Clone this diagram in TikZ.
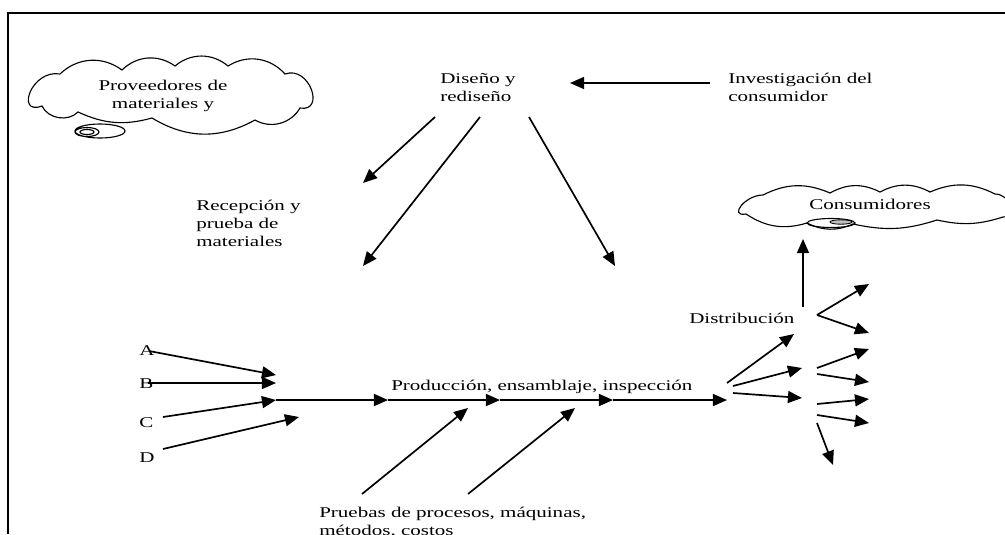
\documentclass[tikz,border=0pt]{standalone}
\usepackage{fontspec}
\setmainfont{Liberation Serif}[FakeStretch=1.41]
\usetikzlibrary{arrows.meta}
\tikzset{>={Triangle[length=10pt,width=8.5pt]},
every edge/.append style={line width=1.2pt},
lbl/.style={inner sep=0pt, anchor=base west, align=left},
nube/.style={draw, fill=white, line width=0.8pt}}

\begin{document}
\begin{tikzpicture}[x=0.025cm, y=-0.025cm, font=\fontsize{10.6}{12.8}\selectfont]
  \useasboundingbox (0,0) rectangle (1005,534);
  \draw [line width=1.3pt] (8,534) -- (8,13) -- (1005,13);

  % nubes
  \draw [nube] (42,106) to[out=200, in=170, looseness=2] (60,74)
    to[bend left=40] (122,70) to[bend left=40] (175,66)
    to[bend left=40] (228,66) to[bend left=40] (285,74)
    to[out=20, in=-10, looseness=1.8] (300,108)
    to[bend left=45] (255,120) to[bend left=30] (152,118)
    to[bend left=20] (78,112) to[bend left=55] (42,106) -- cycle;
  \draw [line width=0.8pt] (100,131) ellipse [x radius=25, y radius=7]
    (87,132) ellipse [x radius=12, y radius=4.5]
    (87,132) ellipse [x radius=7, y radius=2.5];
  \node (prov) [align=center, inner sep=0pt] at (163,96)
    {Proveedores de\\ materiales y};

  \draw [nube] (746,214) to[out=190, in=180, looseness=1.8] (763,195)
    to[bend left=25] (830,193) to[bend left=28] (880,192)
    to[bend left=28] (930,192) to[bend left=25] (995,194)
    to[out=0, in=0, looseness=1.6] (1003,217)
    to[bend left=15] (937,220) to[bend left=15] (853,224)
    to[bend left=25] (807,223) to[bend left=25] (746,214) -- cycle;
  \draw [line width=0.8pt] (831,223) ellipse [x radius=24, y radius=4.5];
  \draw [line width=0.6pt, fill=black!25] (841,222) ellipse [x radius=11, y radius=2.2];
  \node (cons) [inner sep=0pt] at (870,204) {Consumidores};

  % textos
  \node (dis) [lbl] at (440,101) {Diseño y\\rediseño};
  \node (inv) [lbl] at (728,101) {Investigación del\\consumidor};
  \node (rec) [lbl] at (196,246) {Recepción y\\prueba de\\materiales};
  \node (A) [lbl] at (139,355) {A};
  \node (B) [lbl] at (139,388) {B};
  \node (C) [lbl] at (139,427) {C};
  \node (D) [lbl] at (139,462) {D};
  \node (prod) [lbl] at (391,390) {Producción, ensamblaje, inspección};
  \node (dist) [lbl] at (689,323) {Distribución};
  \node (prue) [lbl] at (319,535) {Pruebas de procesos, máquinas,\\métodos, costos};

  % puntos de las flechas
  \coordinate (inv-w) at (710,83);  \coordinate (dis-e) at (570,83);
  \coordinate (dis-1) at (435,117); \coordinate (rec-1) at (363,183);
  \coordinate (dis-2) at (480,117); \coordinate (rec-2) at (363,266);
  \coordinate (dis-3) at (529,117); \coordinate (rec-3) at (615,266);
  \coordinate (A-e) at (149,351);   \coordinate (A-t) at (276,375);
  \coordinate (B-e) at (148,383);   \coordinate (B-t) at (276,383);
  \coordinate (C-e) at (163,417);
  \coordinate (D-e) at (163,449);   \coordinate (D-t) at (299,417);
  \coordinate (m0) at (276,400);    \coordinate (m1) at (388,400);
  \coordinate (m2) at (500,400);    \coordinate (m3) at (613,400);
  \coordinate (m4) at (727,400);
  \coordinate (p1-s) at (362,494);  \coordinate (p1-t) at (468,408);
  \coordinate (p2-s) at (468,494);  \coordinate (p2-t) at (575,408);
  \coordinate (r1-s) at (727,383);  \coordinate (r1-t) at (794,334);
  \coordinate (r2-s) at (733,386);  \coordinate (r2-t) at (802,368);
  \coordinate (r3-s) at (733,393);  \coordinate (r3-t) at (802,398);
  \coordinate (up-s) at (803,307);  \coordinate (up-t) at (803,239);
  \coordinate (v-s) at (817,315);
  \coordinate (v-1) at (869,284);   \coordinate (v-2) at (869,333);
  \coordinate (s1-s) at (817,368);  \coordinate (s1-t) at (869,349);
  \coordinate (s2-s) at (817,374);  \coordinate (s2-t) at (869,382);
  \coordinate (s3-s) at (817,404);  \coordinate (s3-t) at (869,399);
  \coordinate (s4-s) at (817,415);  \coordinate (s4-t) at (869,423);
  \coordinate (s5-s) at (817,423);  \coordinate (s5-t) at (833,465);

  \path
    (inv-w) edge [->] (dis-e)
    (dis-1) edge [->] (rec-1)
    (dis-2) edge [->] (rec-2)
    (dis-3) edge [->] (rec-3)
    (A-e) edge [->] (A-t)
    (B-e) edge [->] (B-t)
    (C-e) edge [->] (m0)
    (D-e) edge [->] (D-t)
    (m0) edge [->] (m1)
    (m1) edge [->] (m2)
    (m2) edge [->] (m3)
    (m3) edge [->] (m4)
    (p1-s) edge [->] (p1-t)
    (p2-s) edge [->] (p2-t)
    (r1-s) edge [->] (r1-t)
    (r2-s) edge [->] (r2-t)
    (r3-s) edge [->] (r3-t)
    (up-s) edge [->] (up-t)
    (v-s) edge [->] (v-1)
    (v-s) edge [->] (v-2)
    (s1-s) edge [->] (s1-t)
    (s2-s) edge [->] (s2-t)
    (s3-s) edge [->] (s3-t)
    (s4-s) edge [->] (s4-t)
    (s5-s) edge [->] (s5-t);
\end{tikzpicture}
\end{document}
